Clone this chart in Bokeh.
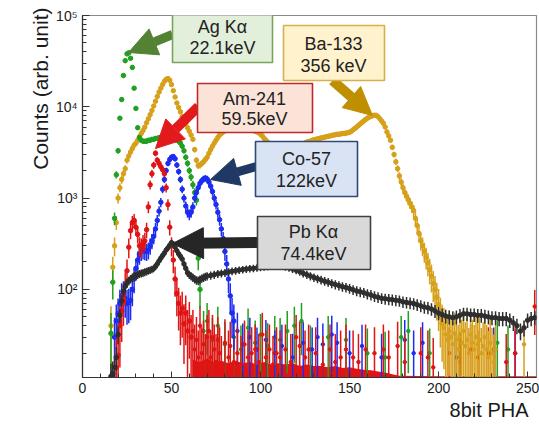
import math
from bokeh.plotting import figure
from bokeh.models import (Range1d, Label, BoxAnnotation, Arrow, NormalHead,
                          CustomJSTickFormatter, Title)
from bokeh.embed import file_html
from bokeh.resources import INLINE

FONT = "Liberation Sans"

# ---------------- data ----------------
# Ag K-alpha (green), channels from 16
ag_start = 16
ag_counts = [33, 120, 600, 1800, 3300, 7500, 12000, 22000, 32000, 38000, 39000, 34000,
             27000, 16000, 9600, 5900, 4600,
             4300, 4200, 4200, 4200, 4300, 4300, 4400, 4400, 4500, 4500, 4600, 4600,
             4700, 4700, 4800, 4800, 4800, 4700, 4600, 4500, 4300, 4200, 4000, 3700, 3300,
             2800, 2400, 2000, 1700, 1400, 1150, 950, 220, 100]
ag_noise_ch = [68, 70, 73, 76, 80, 85, 89, 93, 97, 100, 104, 108, 111, 115, 119, 123,
               128, 138, 148, 160, 170, 179, 183, 195, 212, 233, 239]
ag_noise_cnt = [35, 45, 28, 40, 25, 30, 22, 38, 26, 32, 24, 30, 28, 35, 40, 45,
                22, 30, 28, 20, 18, 30, 35, 20, 18, 26, 22]

# Am-241 (red), channels from 19
am_start = 19
am_counts = [14, 19, 40, 58, 76, 110, 160, 290, 440, 540, 570, 480, 400, 300, 290,
             320, 340, 450, 800, 1400, 1850, 2300, 3100, 2600, 2400, 2200, 2050, 1850,
             1300, 850, 480, 300, 210, 130, 90, 70, 55, 62, 42, 55, 35, 45, 30]
am_noise_ch = [62, 63, 64, 65, 66, 67, 68, 69, 70, 71, 72, 73, 74, 75, 76, 77, 78, 80,
               82, 83, 85, 87, 89, 91, 93, 95, 97, 99, 101, 103, 105, 107, 109, 111,
               114, 117, 120, 122, 125, 127, 131, 135, 139, 142, 145, 148, 152, 155,
               159, 164, 169, 172, 177, 181, 190, 194, 197, 206, 212, 218, 222, 228,
               238, 243, 254]
am_noise_cnt = [35, 22, 28, 18, 40, 20, 25, 16, 30, 35, 18, 30, 22, 16, 28, 20, 15, 26,
                18, 24, 16, 20, 15, 25, 18, 20, 22, 16, 32, 18, 22, 15, 20, 18,
                22, 16, 30, 24, 18, 22, 20, 15, 22, 16, 18, 22, 18, 16,
                22, 20, 22, 18, 24, 16, 20, 18, 14, 20, 16, 22, 18, 20,
                16, 20, 65]
am_band_ch = [62, 66, 70, 74, 78, 82, 86, 90, 94, 98, 102, 106, 110, 114, 118, 122, 126,
              130, 134, 138, 142, 146, 150, 154, 158, 162, 166, 170, 174, 178, 200, 230, 255]
am_band_top = [17, 16, 17.5, 16, 16.5, 15.5, 16.5, 15.5, 16, 15, 16, 15, 15.5, 15, 15.5,
               14.5, 15, 14.5, 14.5, 14, 14.5, 13.8, 14, 13.5, 13.2, 13, 12.6, 12.3,
               11.8, 11.3, 11.2, 11.2, 11.2]

# Co-57 (blue), channels from 18
co_start = 18
co_counts = [30, 45, 54, 70, 85, 90, 80, 70, 72, 76, 100, 130, 170, 210, 240, 260, 270,
             265, 260, 270, 300, 340, 380, 460, 570, 720, 900, 1250, 1600, 2000, 2400,
             2650, 2800, 2850, 2700, 2300, 1950, 1600, 1250, 1000, 820, 700, 660, 700,
             800, 1000, 1150, 1300, 1450, 1550, 1620, 1650, 1620, 1500, 1350, 1180, 1000,
             850, 700, 580, 460, 360, 260, 190, 130, 85, 55, 45]
co_noise_ch = [87, 90, 94, 98, 103, 108, 112, 118, 124, 129, 132, 135, 140, 143, 150,
               157, 168, 181, 186, 191, 210, 231, 243]
co_noise_cnt = [35, 25, 30, 22, 28, 20, 24, 18, 26, 22, 30, 25, 32, 26, 20,
                24, 18, 28, 20, 26, 18, 22, 20]

# Ba-133 (gold), channels from 16
ba_start = 16
ba_counts = [40, 175, 300, 540, 1000, 1300, 1600, 1850, 2100, 2600, 2900, 3200, 3500, 3800, 4000,
             4300, 4700, 5100, 5500, 6000, 6700, 7400, 8200, 9100, 10200, 11500, 13000, 14500,
             16000, 17500, 19000, 20000, 20400,
             19500, 17500, 15000, 12800, 11000, 9800, 8800, 7800, 7100, 6500, 5900, 5400,
             4900, 4400, 3400, 2600, 2270,
             2300, 2400, 2500, 2650, 2800, 3100, 3400, 3700, 4000, 4300, 4600, 4900, 5100,
             5300, 5450, 5600, 5750, 5900,
             6000, 6100, 6150, 6200, 6200, 6150, 6100, 6000, 5900, 5800, 5700, 5600, 5500,
             5400, 5300, 5200, 5000, 4800, 4500, 4300,
             4100, 3950, 3850, 3750, 3700, 3650, 3600, 3600, 3550, 3550, 3550, 3550, 3600,
             3600, 3650, 3700, 3750, 3800, 3850, 3900, 3950, 4000, 4100, 4150, 4200, 4300, 4350,
             4400, 4450, 4500, 4550, 4600, 4650, 4700, 4750, 4800, 4850, 4900, 4950, 5000,
             5000, 5050, 5100, 5100, 5150, 5200, 5250,
             5400, 5600, 5800, 6000, 6250, 6500, 6750, 7000, 7250, 7500, 7700, 7850, 8000,
             8100, 8050,
             7800, 7400, 7000, 6600, 6000, 5300, 4800, 4300, 3600, 3000, 2500, 2100, 1750,
             1500, 1300, 1150, 1050, 960, 880, 800, 730, 600, 500, 410, 340, 300, 260, 225,
             195, 165, 140, 116, 100, 82, 68, 52, 42]
ba_noise_ch = [203, 204, 205, 206, 207, 208, 209, 210, 211, 212, 213, 214, 215, 216, 217,
               218, 219, 220, 221, 222, 223, 224, 225, 226, 227, 228, 229, 230, 231, 232, 248]
ba_noise_cnt = [38, 32, 28, 35, 30, 25, 33, 28, 22, 30, 26, 35, 24, 28, 20,
                32, 26, 22, 30, 25, 28, 20, 24, 30, 22, 18, 26, 20, 16, 22, 25]

# Pb K-alpha (black)
pb_ch = list(range(16, 71)) + list(range(72, 255, 2))
pb_counts = [11.2, 12, 14, 18, 32, 52, 75, 95, 108, 118,
             124, 130, 135, 140, 142, 145, 148, 150, 152, 155,
             157, 160, 163, 166, 170, 178, 190, 205, 220, 235,
             250, 270, 285, 305, 325, 315, 290, 265, 245, 230,
             215, 190, 170, 152, 145, 140, 135, 130, 126, 125,
             128, 132, 135, 138, 140,
             142, 145, 148, 150, 152, 155, 158, 160, 163, 165,
             167, 169, 170, 172, 174, 176, 178, 180, 182, 183,
             180, 176, 172, 167, 162, 156, 150, 145, 140, 135,
             131, 127, 123, 120, 116, 113, 110, 107, 105, 102,
             99, 96, 94, 92, 89, 87, 84, 82, 80, 79,
             78, 77, 76, 75, 73, 72, 71, 70, 68, 66,
             64, 63, 61, 58, 55, 53, 51, 50, 49, 50,
             52, 54, 54, 53, 53, 52, 52, 51, 50, 49,
             49, 48, 48, 48, 46, 43, 40, 35, 38, 46,
             48, 49]

x_ticks_max = 255
# ---------------------------------------------------------------

# reference-pixel helpers for placing annotations
X0_PX, X_PX_PER = 82.0, 454.0 / 255.0
Y_TOP_PX, PX_PER_DEC = 15.0, 91.3


def rx(px):
    return (px - X0_PX) / X_PX_PER


def ry(py):
    return 10 ** (5 - (py - Y_TOP_PX) / PX_PER_DEC)


Y_MIN = ry(377)

p = figure(width=539, height=424, y_axis_type="log",
           x_range=Range1d(0, x_ticks_max), y_range=Range1d(Y_MIN, 1e5),
           output_backend="svg", toolbar_location=None,
           min_border_left=82, min_border_right=3, min_border_top=15, min_border_bottom=47)
p.background_fill_color = "white"
p.border_fill_color = "white"
p.outline_line_color = "#8a8a8a"
p.outline_line_width = 1.2
p.xgrid.visible = False
p.ygrid.visible = False

for ax in (p.xaxis[0], p.yaxis[0]):
    ax.axis_line_color = "#333333"
    ax.axis_line_width = 1.2
    ax.major_tick_line_color = "#333333"
    ax.minor_tick_line_color = "#333333"
    ax.major_tick_out = 0
    ax.minor_tick_out = 0
    ax.major_label_text_font = FONT
    ax.major_label_text_font_size = "14px"
    ax.major_label_text_color = "#1a1a1a"
p.xaxis.major_tick_in = 6
p.xaxis.minor_tick_in = 4
p.yaxis.major_tick_in = 7
p.yaxis.minor_tick_in = 4
p.xaxis.major_label_standoff = 5
p.yaxis.major_label_standoff = 5
p.yaxis.formatter = CustomJSTickFormatter(code="""
const sup = {"0":"\u2070","1":"\u00b9","2":"\u00b2","3":"\u00b3","4":"\u2074","5":"\u2075","6":"\u2076"};
const e = Math.round(Math.log10(tick));
return "10" + String(e).split("").map(c => sup[c]).join("");
""")

# axis titles placed as side titles (left one runs bottom-to-top)
p.add_layout(Title(text="Counts (arb. unit)", align="right", offset=-8, standoff=1,
                   text_font=FONT, text_font_size="21px", text_font_style="normal",
                   text_color="#1a1a1a"), "left")
p.add_layout(Title(text="8bit PHA", align="right", offset=8, standoff=3,
                   text_font=FONT, text_font_size="20px", text_font_style="normal",
                   text_color="#1a1a1a"), "below")


def draw(ch, cnt, k, color, size, bar_w=1.5):
    lo = [max(c - math.sqrt(c * k), 1.0) for c in cnt]
    hi = [c + math.sqrt(c * k) for c in cnt]
    p.segment(x0=ch, y0=lo, x1=ch, y1=hi, line_color=color, line_width=bar_w)
    p.scatter(x=ch, y=cnt, size=size, marker="circle", fill_color=color, line_color=color)


RED, GREEN, BLUE, GOLD, BLACK = "#e01414", "#20a020", "#1c2cf0", "#d6a019", "#2e2e2e"

ag_ch = list(range(ag_start, ag_start + len(ag_counts)))
am_ch = list(range(am_start, am_start + len(am_counts)))
co_ch = list(range(co_start, co_start + len(co_counts)))
ba_ch = list(range(ba_start, ba_start + len(ba_counts)))

# low-count red band
p.varea(x=am_band_ch, y1=[1.0] * len(am_band_ch), y2=am_band_top, fill_color=RED)

# noise bars
draw(ag_noise_ch, ag_noise_cnt, 15, GREEN, 3.5)
draw(co_noise_ch, co_noise_cnt, 12, BLUE, 3.5)
draw(am_noise_ch, am_noise_cnt, 17, RED, 3.5)
draw(ba_noise_ch, ba_noise_cnt, 16, GOLD, 3.5)

# main spectra
draw(ba_ch, ba_counts, 16, GOLD, 4.5)
draw(ag_ch, ag_counts, 15, GREEN, 4.5)
draw(co_ch, co_counts, 12, BLUE, 4.5)
draw(am_ch, am_counts, 17, RED, 4.5)
draw(pb_ch, pb_counts, 1.5, BLACK, 4.5)

# ---------------- annotations ----------------
arrows = [
    ((172, 34), (128, 52), "#548235", 9, 28),
    ((198, 106), (155, 148), "#e31a1c", 10, 28),
    ((332, 80), (372, 115), "#bf8f00", 10, 28),
    ((256, 166), (210, 179), "#1f3864", 9, 28),
    ((258, 242), (172, 243), "#262626", 11, 31),
]
for (sx, sy), (ex, ey), col, lw, hs in arrows:
    p.add_layout(Arrow(end=NormalHead(size=hs, fill_color=col, line_color=col),
                       x_start=rx(sx), y_start=ry(sy), x_end=rx(ex), y_end=ry(ey),
                       line_color=col, line_width=lw))

boxes = [
    # left, right, top, bottom, fill, border, (text1, y1), (text2, y2), cx
    (172, 272, 7, 62, "#e2efda", "#7aa35a", ("Ag K\u03b1", 26), ("22.1keV", 47), 222),
    (283, 384, 25, 80, "#fff2cc", "#d6b04c", ("Ba-133", 43), ("356 keV", 65), 333),
    (197, 312, 83, 132, "#fbe3d8", "#c0282d", ("Am-241", 98), ("59.5keV", 118), 254),
    (255, 357, 141, 196, "#dae3f3", "#2f4a7a", ("Co-57", 158), ("122keV", 180), 306),
    (257, 370, 216, 269, "#d9d9d9", "#404040", ("Pb K\u03b1", 231), ("74.4keV", 253), 313),
]
for l, r, t, b, fill, border, t1, t2, cx in boxes:
    p.add_layout(BoxAnnotation(left=rx(l), right=rx(r), top=ry(t), bottom=ry(b),
                               fill_color=fill, fill_alpha=1.0,
                               line_color=border, line_width=1.6, line_alpha=1.0))
    for txt, ty in (t1, t2):
        p.add_layout(Label(x=rx(cx), y=ry(ty), text=txt, text_align="center",
                           text_baseline="middle", text_font=FONT,
                           text_font_size="18px", text_color="#222222"))

open("out.html", "w").write(file_html(p, INLINE))
